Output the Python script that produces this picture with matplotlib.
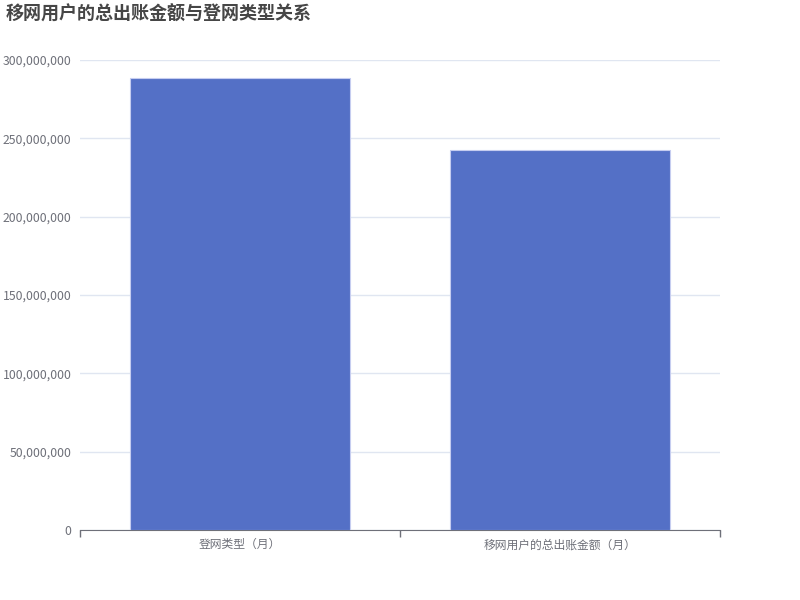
import matplotlib.pyplot as plt
from matplotlib.ticker import FuncFormatter

plt.rcParams['font.family'] = ['Noto Sans CJK SC', 'DejaVu Sans']

categories = ['登网类型（月）', '移网用户的总出账金额（月）']
values = [288800000, 242700000]
title = '移网用户的总出账金额与登网类型关系'

fig = plt.figure(figsize=(8, 6), dpi=100)
ax = fig.add_axes([0.1, 0.1167, 0.8, 0.7833])

x = range(len(categories))
ax.bar(x, values, width=0.6875, color='#5470C6', edgecolor='#c6cdf0', linewidth=0.8, zorder=3)

ax.set_xlim(-0.5, len(categories) - 0.5)
ax.set_ylim(0, 300000000)
ax.set_yticks(range(0, 300000001, 50000000))
ax.yaxis.set_major_formatter(FuncFormatter(lambda v, p: f'{int(v):,}'))
ax.grid(axis='y', color='#E0E6F1', linewidth=1, zorder=0)

ax.set_xticks([-0.5, 0.5, 1.5])
ax.set_xticklabels([])
ax.set_xticks(list(x), minor=True)
ax.set_xticklabels(categories, minor=True)
ax.tick_params(axis='x', which='major', length=5, color='#6E7079', width=1)
ax.tick_params(axis='x', which='minor', length=0, labelsize=8.5, labelcolor='#6E7079', pad=6)
ax.tick_params(axis='y', length=0, labelsize=8.8, labelcolor='#6E7079', pad=6)

for s in ['top', 'right', 'left']:
    ax.spines[s].set_visible(False)
ax.spines['bottom'].set_color('#6E7079')

fig.text(0.0075, 0.977, title, fontsize=13, fontweight='bold', color='#464646', va='center', ha='left')

fig.savefig('out.png', dpi=100)
